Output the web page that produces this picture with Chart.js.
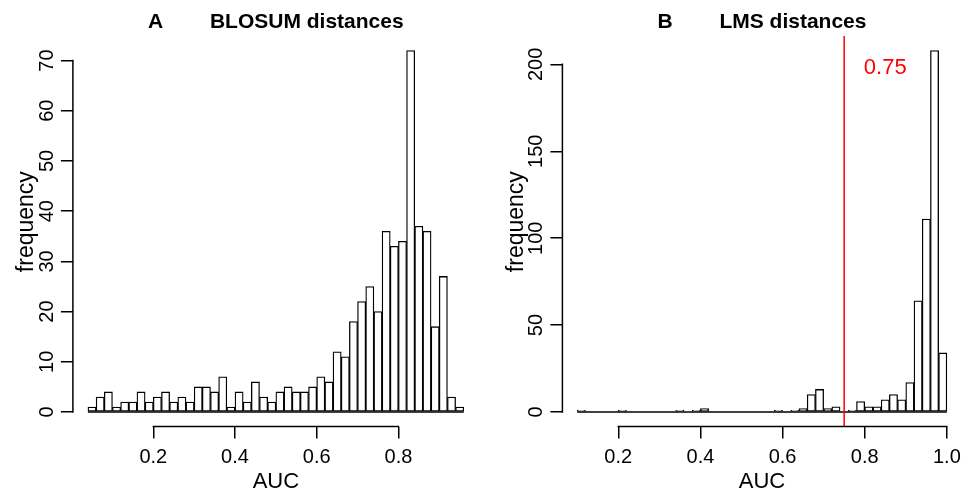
<!DOCTYPE html>
<html lang="en">
<head>
<meta charset="utf-8">
<title>BLOSUM / LMS distances</title>
<script src="https://cdn.jsdelivr.net/npm/chart.js@4.4.1/dist/chart.umd.min.js"></script>
<style>
  html, body { margin: 0; padding: 0; background: #fff; }
  #figura { display: flex; width: 968px; height: 492px; }
  canvas { display: block; }
</style>
</head>
<body>
<div id="figura">
  <canvas id="graficoA" width="484" height="492"></canvas>
  <canvas id="graficoB" width="484" height="492"></canvas>
</div>
<script>
// Largura das classes do histograma (AUC)
const larguraClasse = 0.02;

// Painel A - BLOSUM: limite inferior de cada classe e frequências
const classesA = [0.04, 0.06, 0.08, 0.10, 0.12, 0.14, 0.16, 0.18, 0.20, 0.22,
                  0.24, 0.26, 0.28, 0.30, 0.32, 0.34, 0.36, 0.38, 0.40, 0.42,
                  0.44, 0.46, 0.48, 0.50, 0.52, 0.54, 0.56, 0.58, 0.60, 0.62,
                  0.64, 0.66, 0.68, 0.70, 0.72, 0.74, 0.76, 0.78, 0.80, 0.82,
                  0.84, 0.86, 0.88, 0.90, 0.92, 0.94];
const frequenciasA = [1, 3, 4, 1, 2, 2, 4, 2, 3, 4,
                      2, 3, 2, 5, 5, 4, 7, 1, 4, 2,
                      6, 3, 2, 4, 5, 4, 4, 5, 7, 6,
                      12, 11, 18, 22, 25, 20, 36, 33, 34, 72,
                      37, 36, 17, 27, 3, 1];

// Painel B - LMS
const classesB = [0.10, 0.12, 0.14, 0.16, 0.18, 0.20, 0.22, 0.24, 0.26, 0.28,
                  0.30, 0.32, 0.34, 0.36, 0.38, 0.40, 0.42, 0.44, 0.46, 0.48,
                  0.50, 0.52, 0.54, 0.56, 0.58, 0.60, 0.62, 0.64, 0.66, 0.68,
                  0.70, 0.72, 0.74, 0.76, 0.78, 0.80, 0.82, 0.84, 0.86, 0.88,
                  0.90, 0.92, 0.94, 0.96, 0.98];
const frequenciasB = [1, 0, 0, 0, 0, 1, 0, 0, 0, 0,
                      0, 0, 1, 0, 1, 2, 0, 0, 0, 0,
                      0, 0, 0, 0, 1, 0, 1, 2, 10, 13,
                      2, 3, 0, 1, 6, 3, 3, 7, 10, 7,
                      17, 64, 111, 208, 34];

// Marcas dos eixos
const ticksXA = [0.2, 0.4, 0.6, 0.8];
const ticksYA = [0, 10, 20, 30, 40, 50, 60, 70];
const ticksXB = [0.2, 0.4, 0.6, 0.8, 1.0];
const ticksYB = [0, 50, 100, 150, 200];

// Linha de corte no painel B e o seu rótulo
const corteB = 0.75;
const rotuloCorteB = { x: 0.85, y: 198, texto: '0.75' };

Chart.defaults.font.family = "'Liberation Sans', Arial, Helvetica, sans-serif";
Chart.defaults.color = '#000';

// Linhas dos eixos no estilo do R: só da primeira à última marca
const eixosR = {
    id: 'eixosR',
    afterDraw(chart) {
        const { ctx, chartArea, scales: { x, y } } = chart;
        ctx.save();
        ctx.strokeStyle = '#000';
        ctx.lineWidth = 1.5;
        ctx.lineCap = 'square';
        ctx.beginPath();
        ctx.moveTo(x.getPixelForValue(x.ticks[0].value), chartArea.bottom);
        ctx.lineTo(x.getPixelForValue(x.ticks[x.ticks.length - 1].value), chartArea.bottom);
        ctx.moveTo(chartArea.left, y.getPixelForValue(y.ticks[0].value));
        ctx.lineTo(chartArea.left, y.getPixelForValue(y.ticks[y.ticks.length - 1].value));
        ctx.stroke();
        ctx.restore();
    }
};

// Linha vermelha vertical com o valor de corte
const linhaCorte = {
    id: 'linhaCorte',
    afterDatasetsDraw(chart) {
        const { ctx, chartArea, scales: { x, y } } = chart;
        const px = x.getPixelForValue(corteB);
        ctx.save();
        ctx.strokeStyle = '#ff0000';
        ctx.lineWidth = 1.5;
        ctx.beginPath();
        ctx.moveTo(px, chartArea.top);
        ctx.lineTo(px, chartArea.bottom);
        ctx.stroke();
        ctx.fillStyle = '#ff0000';
        ctx.font = "22px 'Liberation Sans', Arial, sans-serif";
        ctx.textAlign = 'center';
        ctx.textBaseline = 'middle';
        ctx.fillText(rotuloCorteB.texto, x.getPixelForValue(rotuloCorteB.x), y.getPixelForValue(rotuloCorteB.y));
        ctx.restore();
    }
};

// Função para criar um histograma
function criarGrafico(idCanvas, cfg) {
    const { titulo, classes, frequencias, ticksX, ticksY, esquerda, direita, padTicksY, extras } = cfg;

    // Limites como no R: 4% de folga em cada lado
    const inicio = classes[0];
    const fim = classes[classes.length - 1] + larguraClasse;
    const maximo = Math.max(...frequencias);
    const folgaX = (fim - inicio) * 0.04;
    const folgaY = maximo * 0.04;

    const barras = classes.map((c, i) => ({ x: c + larguraClasse / 2, y: frequencias[i] }));

    const ctx = document.getElementById(idCanvas).getContext('2d');
    return new Chart(ctx, {
        type: 'bar',
        data: {
            datasets: [{
                type: 'bar',
                data: barras,
                backgroundColor: '#ffffff',
                borderColor: '#000000',
                borderWidth: 1.3,
                borderSkipped: false,
                barPercentage: 1,
                categoryPercentage: 1
            }, {
                // linha de base (classes com frequência zero)
                type: 'line',
                data: [{ x: inicio, y: 0 }, { x: fim, y: 0 }],
                borderColor: '#000000',
                borderWidth: 1.5,
                pointRadius: 0
            }]
        },
        options: {
            responsive: false,
            animation: false,
            events: [],
            layout: { padding: { left: 0, right: direita, top: 0, bottom: 0 } },
            plugins: {
                legend: { display: false },
                tooltip: { enabled: false },
                title: {
                    display: true,
                    text: titulo,
                    fullSize: false,
                    font: { size: 21, weight: 'bold' },
                    padding: { top: 9.9, bottom: 0.9 }
                }
            },
            scales: {
                x: {
                    type: 'linear',
                    min: inicio - folgaX,
                    max: fim + folgaX,
                    offset: false,
                    afterBuildTicks: (escala) => { escala.ticks = ticksX.map(v => ({ value: v })); },
                    afterFit: (escala) => { escala.height = 65.5; },
                    border: { display: false },
                    grid: { offset: false, drawOnChartArea: false, drawTicks: true, tickLength: 12, color: '#000', lineWidth: 1.5 },
                    ticks: {
                        autoSkip: false,
                        maxRotation: 0,
                        padding: 7,
                        font: { size: 20 },
                        callback: (v) => Number(v).toFixed(1)
                    },
                    title: { display: true, text: 'AUC', font: { size: 22, lineHeight: 0.9 }, padding: 0 }
                },
                y: {
                    type: 'linear',
                    min: -folgaY,
                    max: maximo + folgaY,
                    afterBuildTicks: (escala) => { escala.ticks = ticksY.map(v => ({ value: v })); },
                    afterFit: (escala) => { escala.width = esquerda; },
                    border: { display: false },
                    grid: { drawOnChartArea: false, drawTicks: true, tickLength: 12, color: '#000', lineWidth: 1.5 },
                    ticks: {
                        autoSkip: false,
                        minRotation: 90,
                        maxRotation: 90,
                        crossAlign: 'center',
                        padding: padTicksY,
                        font: { size: 20 },
                        callback: (v) => String(v)
                    },
                    title: {
                        display: true,
                        // espaços iniciais: o título fica um pouco acima do centro, como no original
                        text: '   frequency',
                        font: { size: 23, lineHeight: 0.9 },
                        padding: { top: esquerda - 56.4, bottom: 0 }
                    }
                }
            }
        },
        plugins: [eixosR, ...(extras || [])]
    });
}

criarGrafico('graficoA', {
    titulo: 'A        BLOSUM distances',
    classes: classesA,
    frequencias: frequenciasA,
    ticksX: ticksXA,
    ticksY: ticksYA,
    esquerda: 72.9,
    direita: 5.2,
    padTicksY: 2,
});

criarGrafico('graficoB', {
    titulo: 'B        LMS distances',
    classes: classesB,
    frequencias: frequenciasB,
    ticksX: ticksXB,
    ticksY: ticksYB,
    esquerda: 78.4,
    direita: 0.6,
    padTicksY: -3,
    extras: [linhaCorte]
});
</script>
</body>
</html>
